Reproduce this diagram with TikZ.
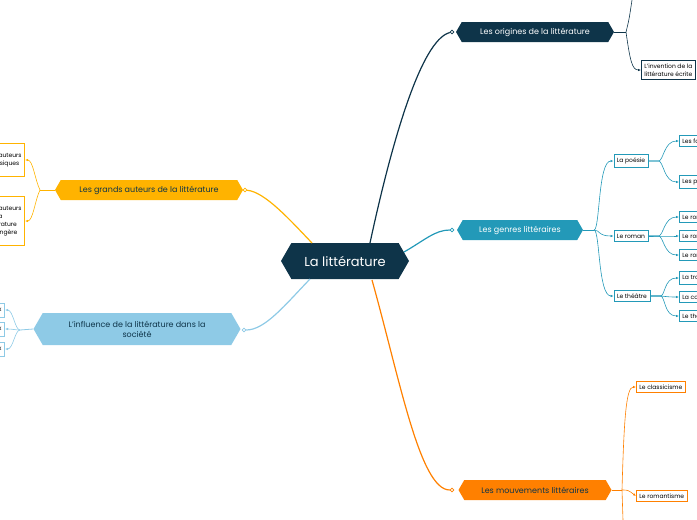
\documentclass[tikz,border=0pt]{standalone}
\usepackage{fontspec}
\setmainfont{Poppins}
\usetikzlibrary{shapes.symbols,arrows.meta}
\definecolor{navy}{HTML}{0E3449}
\definecolor{teal}{HTML}{2399B8}
\definecolor{orng}{HTML}{FF8000}
\definecolor{gold}{HTML}{FFB300}
\definecolor{sky}{HTML}{8ECAE6}
\tikzset{
  hexa/.style={signal, signal to=east and west, signal pointer angle=120, inner sep=3pt, text=white, font=\fontsize{8}{10}\selectfont, align=center},
  leaf/.style={draw, line width=0.8pt, fill=white, inner sep=3pt, font=\fontsize{6}{8}\selectfont, align=left},
  knob/.style={circle, draw, fill=white, line width=0.8pt, inner sep=1.3pt},
  link/.style={line width=1.2pt},
  twig/.style={line width=0.6pt, -{Latex[length=3pt,width=2.5pt]}},
}
\begin{document}
\begin{tikzpicture}[x=1pt,y=-1pt]
\useasboundingbox (0,0) rectangle (697,520);
% central node
\node[hexa, fill=navy, minimum width=128, minimum height=36, font=\fontsize{13}{15}\selectfont] (lit) at (345,261) {La littérature};
% main branches
\node[hexa, fill=navy, minimum width=158, minimum height=20] (orig) at (535,32) {Les origines de la littérature};
\node[hexa, fill=teal, minimum width=126, minimum height=20] (genr) at (520,230) {Les genres littéraires};
\node[hexa, fill=orng, minimum width=153, minimum height=20, text=navy] (mouv) at (535,490) {Les mouvements littéraires};
\node[hexa, fill=gold, minimum width=188, minimum height=20, text=navy] (aut) at (149,190) {Les grands auteurs de la littérature};
\node[hexa, fill=sky, minimum width=207, minimum height=32, text=navy] (infl) at (137,329) {L'influence de la littérature dans la\\société};
\node[knob, draw=navy] (korig) at (452,32) {};
\node[knob, draw=teal] (kgenr) at (452,230) {};
\node[knob, draw=orng] (kmouv) at (452,490) {};
\node[knob, draw=gold] (kaut) at (245,190) {};
\node[knob, draw=sky] (kinfl) at (244,330) {};
\draw[link, navy] (370,243) .. controls (390,150) and (420,40) .. (korig);
\draw[link, teal] (404,252) .. controls (425,240) and (435,230) .. (kgenr);
\draw[link, orng] (372,280) .. controls (400,380) and (420,490) .. (kmouv);
\draw[link, gold] (312,243) .. controls (290,220) and (265,192) .. (kaut);
\draw[link, sky] (310,279) .. controls (285,305) and (265,330) .. (kinfl);
% origins
\coordinate (borig) at (626,32);
\node[leaf, draw=navy, anchor=west] (inv) at (641,70) {L'invention de la\\littérature écrite};
\draw[navy, line width=0.8pt] (orig.east) -- (borig);
\draw[navy, line width=0.6pt] (borig) .. controls (629,20) .. (632,0);
\draw[twig, navy] (borig) .. controls (630,60) and (632,70) .. (inv.west);
% genres
\coordinate (bgenr) at (594,230);
\draw[teal, line width=0.8pt] (genr.east) -- (bgenr);
\node[leaf, draw=teal] (poe) at (631,161) {La poésie};
\node[leaf, draw=teal] (rom) at (631,236) {Le roman};
\node[leaf, draw=teal] (the) at (632,296) {Le théâtre};
\foreach \n in {poe,rom,the}
  \draw[twig, teal] (bgenr) .. controls (600,230) and (598,0 |- \n.west) .. (\n.west);
\node[leaf, draw=teal, anchor=west] (poe1) at (679,141) {Les formes};
\node[leaf, draw=teal, anchor=west] (poe2) at (679,182) {Les poètes};
\node[leaf, draw=teal, anchor=west] (rom1) at (679,217) {Le roman};
\node[leaf, draw=teal, anchor=west] (rom2) at (679,236) {Le roman};
\node[leaf, draw=teal, anchor=west] (rom3) at (679,255) {Le roman};
\node[leaf, draw=teal, anchor=west] (the1) at (679,278) {La tragédie};
\node[leaf, draw=teal, anchor=west] (the2) at (679,297) {La comédie};
\node[leaf, draw=teal, anchor=west] (the3) at (679,316) {Le théâtre};
\foreach \p/\c in {poe/poe1,poe/poe2,rom/rom1,rom/rom2,rom/rom3,the/the1,the/the2,the/the3}
  \draw[twig, teal] (\p.east) -- ++(10,0) .. controls +(5,0) and (664,0 |- \c.west) .. (\c.west);
% mouvements
\coordinate (bmouv) at (622,490);
\draw[orng, line width=0.8pt] (mouv.east) -- (bmouv);
\node[leaf, draw=orng, anchor=west] (clas) at (636,387) {Le classicisme};
\node[leaf, draw=orng, anchor=west] (roma) at (636,496) {Le romantisme};
\draw[twig, orng] (bmouv) .. controls (624,420) and (626,387) .. (clas.west);
\draw[twig, orng] (bmouv) .. controls (628,490) .. (roma.west);
\draw[orng, line width=0.6pt] (bmouv) -- (623,520);
% auteurs
\coordinate (baut) at (40,190);
\draw[gold, line width=0.8pt] (aut.west) -- (baut);
\node[leaf, draw=gold, anchor=east, minimum height=33] (aut1) at (25,160) {Les auteurs\\classiques};
\node[leaf, draw=gold, anchor=east, minimum height=49] (aut2) at (25,221) {Les auteurs\\de la\\littérature\\étrangère};
\draw[twig, gold] (baut) .. controls (35,180) and (33,160) .. (aut1.east);
\draw[twig, gold] (baut) .. controls (35,200) and (33,221) .. (aut2.east);
% influence
\coordinate (binfl) at (20,330);
\draw[sky, line width=0.8pt] (infl.west) -- (binfl);
\node[leaf, draw=sky, anchor=east, minimum height=14] (inf1) at (5,310) {x};
\node[leaf, draw=sky, anchor=east, minimum height=14] (inf2) at (5,329) {x};
\node[leaf, draw=sky, anchor=east, minimum height=14] (inf3) at (5,349) {x};
\foreach \c in {inf1,inf2,inf3}
  \draw[twig, sky] (binfl) .. controls (15,330) and (13,0 |- \c.east) .. (\c.east);
\end{tikzpicture}
\end{document}
